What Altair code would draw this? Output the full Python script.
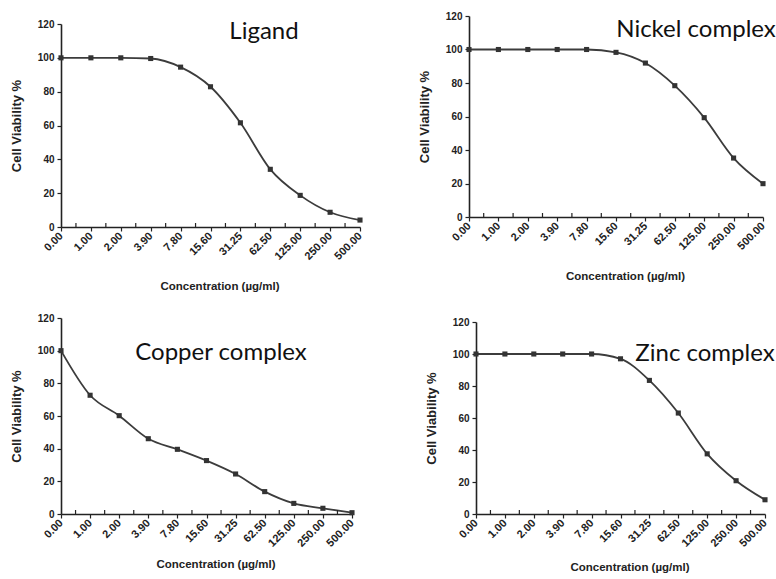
import altair as alt
import pandas as pd

concentrations = ["0.00", "1.00", "2.00", "3.90", "7.80", "15.60", "31.25",
                  "62.50", "125.00", "250.00", "500.00"]
ligand = [100, 100, 100, 99.6, 94.5, 82.9, 61.6, 34.1, 18.7, 8.7, 4.1]
nickel = [100, 100, 100, 100, 100, 98.3, 91.9, 78.4, 59.3, 35.2, 19.9]
copper = [100, 72.7, 60.2, 46.1, 39.6, 32.7, 24.5, 13.7, 6.5, 3.5, 0.8]
zinc = [100, 100, 100, 100, 100, 97.0, 83.5, 63.1, 37.6, 20.8, 8.9]
y_ticks = [0, 20, 40, 60, 80, 100, 120]
minor_ticks = [i + 0.5 for i in range(len(concentrations) - 1)]

label_expr = "[" + ",".join("'%s'" % c for c in concentrations) + "][round(datum.value)]"

LINE = "#3c3c3c"
AX = "#222222"


def panel(name, values, w, h, tx, ty, title_pad, spacer=None, top=0):
    df = pd.DataFrame({"idx": list(range(len(values))), "v": values})
    xs = alt.Scale(domain=[0, len(concentrations) - 1], nice=False, zero=False)
    if top:
        ys = alt.Scale(domain=[0, 120], nice=False, range=[h, top])
    else:
        ys = alt.Scale(domain=[0, 120], nice=False)
    x_axis = alt.Axis(values=list(range(len(concentrations))), labelExpr=label_expr,
                      labelAngle=-45, labelAlign="right", labelBaseline="middle",
                      labelOverlap=False,
                      labelFont="Liberation Sans", labelFontWeight="bold", labelFontSize=11,
                      labelColor="#222222", labelPadding=3, tickSize=4, tickColor=AX,
                      tickWidth=1.2, domainColor=AX, domainWidth=1.6, grid=False,
                      title="Concentration (µg/ml)", titleFont="Liberation Sans",
                      titleFontWeight="bold", titleFontSize=11.5, titleColor="#222222",
                      titlePadding=title_pad, titleX=w / 2 + 9, titleAlign="center")
    y_axis = alt.Axis(values=y_ticks, tickSize=4, tickColor=AX, tickWidth=1.2,
                      labelOverlap=False,
                      domainColor=AX, domainWidth=1.6, grid=False,
                      labelFont="Liberation Sans", labelFontWeight="bold", labelFontSize=10,
                      labelColor="#222222", labelPadding=3,
                      title="Cell Viability %", titleFont="Liberation Sans",
                      titleFontWeight="bold", titleFontSize=13, titleColor="#222222",
                      titlePadding=14)
    base = alt.Chart(df).encode(
        x=alt.X("idx:Q", scale=xs, axis=x_axis),
        y=alt.Y("v:Q", scale=ys, axis=y_axis),
    )
    line = base.mark_line(color=LINE, strokeWidth=1.8, interpolate="monotone")
    pts = base.mark_square(color="#333333", size=26, opacity=1)
    minor = alt.Chart(pd.DataFrame({"idx": minor_ticks})).mark_rule(
        color=AX, strokeWidth=1.2).encode(
        x=alt.X("idx:Q", scale=xs, axis=x_axis), y=alt.value(h), y2=alt.value(h - 4))
    label = alt.Chart(pd.DataFrame({"t": [name]})).mark_text(
        font="Lato", fontSize=24, color="#111111", align="center", baseline="middle").encode(
        text="t:N", x=alt.value(tx), y=alt.value(ty))
    layers = [line, minor, pts, label]
    if spacer is not None:
        sx, sy = spacer
        layers.append(alt.Chart(pd.DataFrame({"s": [0]})).mark_rule(opacity=0).encode(
            x=alt.value(sx), x2=alt.value(sx + 1), y=alt.value(sy)))
    return alt.layer(*layers).properties(width=w, height=h)


p_lig = panel("Ligand", ligand, 299, 203, 203, 8, 19, spacer=(0, -13))
p_ni = panel("Nickel complex", nickel, 294, 193, 227, 6, 19, top=-8)
p_cu = panel("Copper complex", copper, 291, 196, 160, 35, 10)
p_zn = panel("Zinc complex", zinc, 289, 192, 229, 32, 13, spacer=(-58, -9))

chart = alt.concat(p_lig, p_ni, p_cu, p_zn, columns=2, align="none",
                   spacing={"row": 21, "column": 54}).properties(
    padding={"left": 10, "top": 11, "right": 0, "bottom": 0},
    background="white",
).configure_view(stroke=None).configure_axis(labelOverlap=False)

chart.save("out.html", embed_options={"renderer": "svg", "actions": False})
